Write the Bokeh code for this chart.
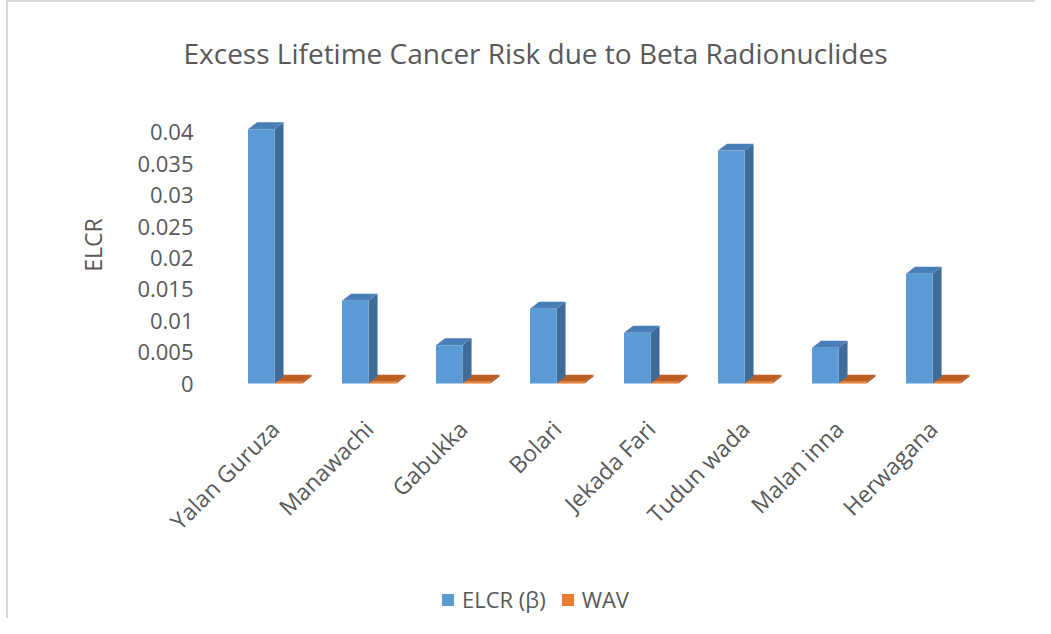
import math
from bokeh.plotting import figure
from bokeh.layouts import column
from bokeh.models import (ColumnDataSource, FixedTicker, Legend, LegendItem, Range1d, Title)
from bokeh.embed import file_html
from bokeh.resources import INLINE

# ---- data ----
categories = ["Yalan Guruza", "Manawachi", "Gabukka", "Bolari",
              "Jekada Fari", "Tudun wada", "Malan inna", "Herwagana"]
elcr_beta = [0.0405, 0.0132, 0.0061, 0.0119, 0.0081, 0.0371, 0.0057, 0.0175]
wav = [0.00029] * len(categories)
y_ticks = [0, 0.005, 0.01, 0.015, 0.02, 0.025, 0.03, 0.035, 0.04]
y_tick_labels = ["0", "0.005", "0.01", "0.015", "0.02", "0.025", "0.03", "0.035", "0.04"]
series_names = ["ELCR (β)", "WAV"]

FONT = "Open Sans"
TXT = "#595959"
BLUE_FRONT, BLUE_SIDE, BLUE_TOP = "#5B9BD5", "#3E6C98", "#4A7EB6"
OR_FRONT, OR_SIDE, OR_TOP = "#ED7D31", "#A9531E", "#BC5E22"

x = list(range(len(categories)))
b_l, b_r = -0.335, -0.053
o_l, o_r = -0.053, 0.245
dx = 0.096
dy = 0.00111
label_shift = -0.05

OX, OY = 8, 2           # canvas origin on the page (after outer frame lines)
W = 1035 - OX
H1 = 548
H2 = 68

p = figure(width=W, height=H1, output_backend="svg", toolbar_location=None,
           x_range=Range1d(-0.8404, 7.670), y_range=Range1d(-0.00095, 0.04508),
           min_border_left=200 - OX, min_border_right=W - (1000 - OX), min_border_top=100 - OY,
           min_border_bottom=H1 - (390 - OY))
p.outline_line_color = None
p.grid.visible = False
p.background_fill_color = "white"
p.border_fill_color = "white"


def box3d(vals, l, r, front, side, top):
    xs_side, ys_side, xs_top, ys_top = [], [], [], []
    for xi, v in zip(x, vals):
        xs_side.append([xi + r, xi + r + dx, xi + r + dx, xi + r])
        ys_side.append([0, dy, v + dy, v])
        xs_top.append([xi + l, xi + l + dx, xi + r + dx, xi + r])
        ys_top.append([v, v + dy, v + dy, v])
    p.patches(xs_side, ys_side, fill_color=side, line_color=None)
    p.patches(xs_top, ys_top, fill_color=top, line_color=None)
    src = ColumnDataSource(dict(left=[xi + l for xi in x], right=[xi + r for xi in x],
                                top=vals, bottom=[0] * len(vals)))
    return p.quad(left="left", right="right", top="top", bottom="bottom", source=src,
                  fill_color=front, line_color=None)


box3d(wav, o_l, o_r, OR_FRONT, OR_SIDE, OR_TOP)
box3d(elcr_beta, b_l, b_r, BLUE_FRONT, BLUE_SIDE, BLUE_TOP)

# axes
yax = p.yaxis[0]
yax.ticker = FixedTicker(ticks=y_ticks)
yax.major_label_overrides = {t: s for t, s in zip(y_ticks, y_tick_labels)}
yax.axis_line_color = None
yax.major_tick_line_color = None
yax.minor_tick_line_color = None
yax.major_label_standoff = 1
yax.major_label_text_font = FONT
yax.major_label_text_font_size = "22px"
yax.major_label_text_color = TXT
yax.axis_label = "ELCR"
yax.axis_label_text_font = FONT
yax.axis_label_text_font_size = "23px"
yax.axis_label_text_font_style = "normal"
yax.axis_label_text_color = TXT
yax.axis_label_standoff = 25

xticks = [xi + label_shift for xi in x]
xax = p.xaxis[0]
xax.ticker = FixedTicker(ticks=xticks)
xax.major_label_overrides = {t: c for t, c in zip(xticks, categories)}
xax.major_label_orientation = math.pi / 4
xax.axis_line_color = None
xax.major_tick_line_color = None
xax.minor_tick_line_color = None
xax.major_label_standoff = 29
xax.major_label_text_font = FONT
xax.major_label_text_font_size = "23px"
xax.major_label_text_color = TXT

# title
p.title = Title(text="Excess Lifetime Cancer Risk due to Beta Radionuclides",
                text_font=FONT, text_font_size="28px", text_color=TXT,
                text_font_style="normal", align="left", offset=-17,
                vertical_align="bottom", standoff=58)

# legend strip
p2 = figure(width=W, height=H2, output_backend="svg", toolbar_location=None,
            x_range=Range1d(0, 1), y_range=Range1d(0, 1),
            min_border_left=0, min_border_right=0, min_border_top=0, min_border_bottom=0)
p2.axis.visible = False
p2.grid.visible = False
p2.outline_line_color = None
p2.background_fill_color = "white"
p2.border_fill_color = "white"
# zero-area swatch renderers (only their colours are used by the legend)
lr_blue = p2.quad(left=[0], right=[0], top=[0], bottom=[0], fill_color=BLUE_FRONT, line_color=None)
lr_or = p2.quad(left=[0], right=[0], top=[0], bottom=[0], fill_color=OR_FRONT, line_color=None)
legend = Legend(items=[LegendItem(label=series_names[0], renderers=[lr_blue]),
                       LegendItem(label=series_names[1], renderers=[lr_or])],
                orientation="horizontal", location=(240, 4),
                label_text_font=FONT, label_text_font_size="22px", label_text_color=TXT,
                glyph_width=15, glyph_height=15, spacing=14, padding=0, margin=0,
                label_standoff=7, border_line_alpha=0, background_fill_alpha=0)
p2.add_layout(legend)

layout = column(p, p2, spacing=0,
                styles={"margin-left": f"{OX - 2}px", "margin-top": "0px",
                        "border-left": "2px solid #D9D9D9", "border-top": "2px solid #D9D9D9"})
open("out.html", "w").write(file_html(layout, INLINE))
